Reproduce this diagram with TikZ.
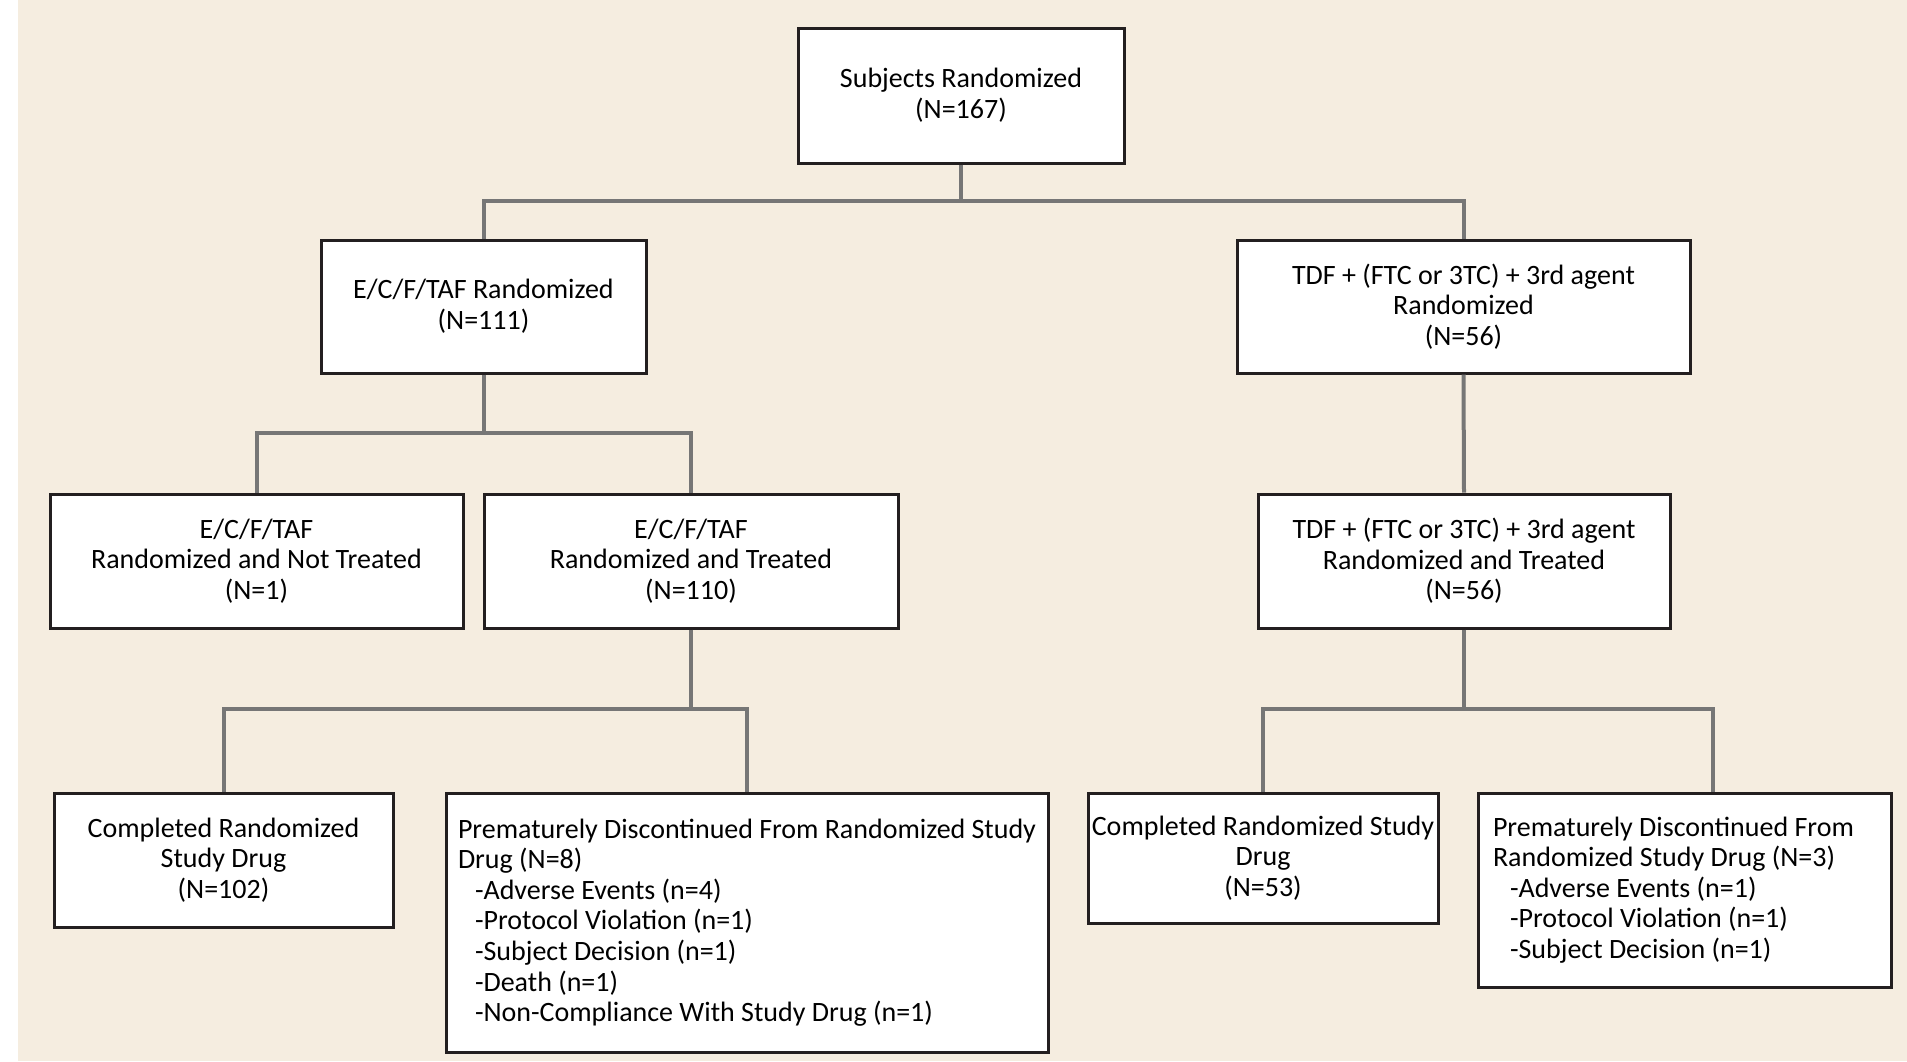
\documentclass[tikz,border=0pt]{standalone}
\usepackage{fontspec}
\setmainfont{Carlito}
\definecolor{bgc}{RGB}{245,237,224}
\definecolor{boxline}{RGB}{35,31,32}
\definecolor{connc}{RGB}{118,118,118}
\tikzset{
  box/.style={draw=boxline, line width=3pt, fill=white, inner sep=4pt, align=center,
    font=\fontsize{28}{30.6}\selectfont, text=black},
  lbox/.style={box, align=flush left},
  conn/.style={draw=connc, line width=4pt}
}
\begin{document}
\begin{tikzpicture}[x=1pt,y=-1pt]
\useasboundingbox (0,0) rectangle (1907,1061);
\fill[white] (0,0) rectangle (1907,1061);
\fill[bgc] (18,0) rectangle (1907,1061);

% level 0
\node[box, minimum width=326pt, minimum height=135pt] (top) at (961,95.5)
  {Subjects Randomized\\(N=167)};
% level 1
\node[box, minimum width=325pt, minimum height=133pt] (erand) at (483.5,306.5)
  {E/C/F/TAF Randomized\\(N=111)};
\node[box, minimum width=453pt, minimum height=133pt] (trand) at (1463.5,306.5)
  {TDF + (FTC or 3TC) + 3rd agent\\Randomized\\(N=56)};
% level 2
\node[box, minimum width=413pt, minimum height=134pt] (enot) at (256.5,561)
  {E/C/F/TAF\\Randomized and Not Treated\\(N=1)};
\node[box, minimum width=414pt, minimum height=134pt] (etreat) at (691,561)
  {E/C/F/TAF\\Randomized and Treated\\(N=110)};
\node[box, minimum width=412pt, minimum height=134pt] (ttreat) at (1464,561)
  {TDF + (FTC or 3TC) + 3rd agent\\Randomized and Treated\\(N=56)};
% level 3
\node[box, minimum width=339pt, minimum height=134pt] (ecomp) at (223.5,860)
  {Completed Randomized\\Study Drug\\(N=102)};
\node[lbox, inner xsep=12pt, text width=578pt, minimum height=259pt] (edisc) at (747,922.5)
  {Prematurely Discontinued From Randomized Study\\
   Drug (N=8)\\
   \hspace*{17pt}-Adverse Events (n=4)\\
   \hspace*{17pt}-Protocol Violation (n=1)\\
   \hspace*{17pt}-Subject Decision (n=1)\\
   \hspace*{17pt}-Death (n=1)\\
   \hspace*{17pt}-Non-Compliance With Study Drug (n=1)};
\node[box, inner xsep=1pt, minimum width=350pt, minimum height=130pt] (tcomp) at (1263,858)
  {Completed Randomized Study\\Drug\\(N=53)};
\node[lbox, inner xsep=15pt, text width=383pt, minimum height=194pt] (tdisc) at (1684.5,890)
  {Prematurely Discontinued From\\
   Randomized Study Drug (N=3)\\
   \hspace*{17pt}-Adverse Events (n=1)\\
   \hspace*{17pt}-Protocol Violation (n=1)\\
   \hspace*{17pt}-Subject Decision (n=1)};

% connectors
\coordinate (j0) at (961,201);
\coordinate (j1) at (483.5,433);
\coordinate (j2) at (691,709);
\coordinate (j3) at (1464,709);
\coordinate (tdin) at ([xshift=28pt]tdisc.north);

\draw[conn] (top.south) -- (j0);
\draw[conn] (erand.north) |- (j0) -| (trand.north);
\draw[conn] (erand.south) -- (j1);
\draw[conn] (enot.north) |- (j1) -| (etreat.north);
\draw[conn] (trand.south) -- (ttreat.north);
\draw[conn] (etreat.south) -- (j2);
\draw[conn] (ecomp.north) |- (j2) -| (edisc.north);
\draw[conn] (ttreat.south) -- (j3);
\draw[conn] (tcomp.north) |- (j3) -| (tdin);
\end{tikzpicture}
\end{document}
